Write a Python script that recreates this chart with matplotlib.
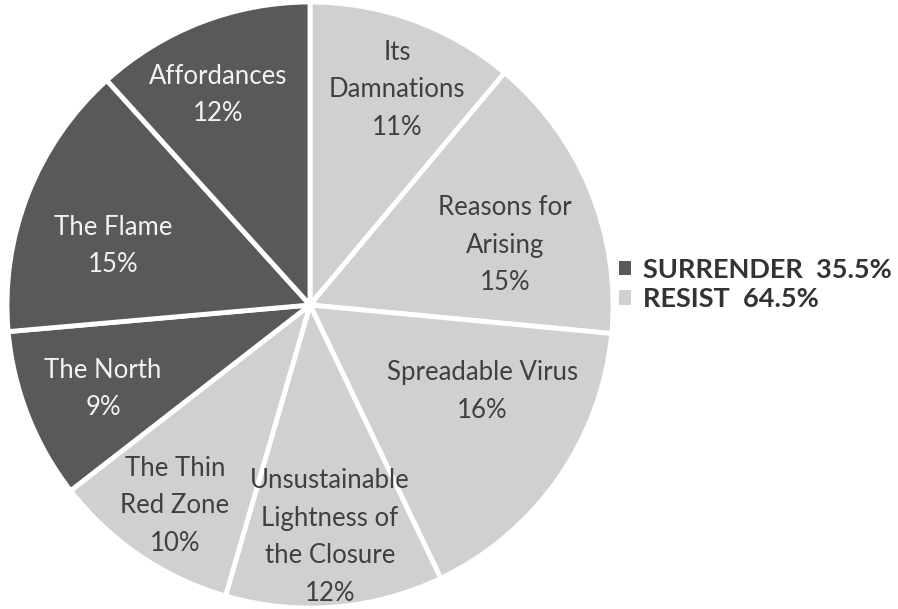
import matplotlib
matplotlib.use("Agg")
import matplotlib.pyplot as plt
from matplotlib.patches import Patch

# slices, clockwise from 12 o'clock
labels = ["Its\nDamnations", "Reasons for\nArising", "Spreadable Virus",
          "Unsustainable\nLightness of\nthe Closure", "The Thin\nRed Zone",
          "The North", "The Flame", "Affordances"]
values = [11.1, 15.4, 16.4, 11.6, 10.0, 9.1, 14.7, 11.7]
groups = ["RESIST", "RESIST", "RESIST", "RESIST", "RESIST",
          "SURRENDER", "SURRENDER", "SURRENDER"]
group_order = ["SURRENDER", "RESIST"]

# label placement (pie radius = 1), Excel "best fit" style
label_pos = [(0.287, 0.71), (0.644, 0.198), (0.568, -0.285), (0.066, -0.766),
             (-0.446, -0.663), (-0.683, -0.277), (-0.65, 0.195), (-0.304, 0.693)]

DARK = "#595959"
LIGHT = "#d0d0d0"
group_color = {"SURRENDER": DARK, "RESIST": LIGHT}
text_color = {"SURRENDER": "#f2f2f2", "RESIST": "#404040"}

plt.rcParams['font.family'] = ['Lato', 'DejaVu Sans']

fig = plt.figure(figsize=(8.98, 6.09), dpi=100)
r_px = 303
ax = fig.add_axes([(310 - r_px) / 898, (609 - 305 - r_px) / 609,
                   2 * r_px / 898, 2 * r_px / 609])

ax.pie(values, startangle=90, counterclock=False,
       colors=[group_color[g] for g in groups],
       wedgeprops=dict(edgecolor="white", linewidth=3.5))
ax.set_xlim(-1, 1)
ax.set_ylim(-1, 1)
ax.set_aspect("equal")
ax.axis("off")

for lab, v, g, (x, y) in zip(labels, values, groups, label_pos):
    ax.text(x, y, f"{lab}\n{v:.0f}%", ha="center", va="center",
            fontsize=18.5, color=text_color[g], linespacing=1.62)

totals = {g: sum(v for v, gg in zip(values, groups) if gg == g) for g in group_order}
handles = [Patch(facecolor=group_color[g], edgecolor="none") for g in group_order]
leg_labels = [f"{g}  {totals[g]:.1f}%" for g in group_order]
fig.legend(handles, leg_labels, loc="center left", bbox_to_anchor=(0.668, 0.533),
           frameon=False, handlelength=0.45, handleheight=0.45, handletextpad=0.45,
           labelspacing=0.2, prop=dict(weight="bold", size=19.5), labelcolor="#333333",
           borderpad=0.2)

fig.savefig("out.png", dpi=100, facecolor="white")
